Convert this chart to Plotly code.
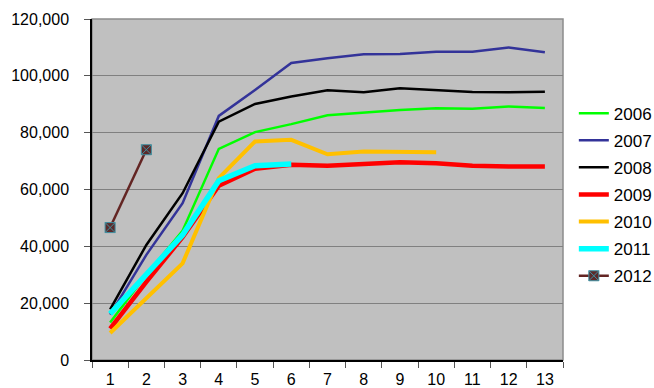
import plotly.graph_objects as go

# Month index shown on the category axis
months = [str(m) for m in range(1, 14)]

# Cumulative totals per year
y2006 = [13200, 30000, 45500, 74300, 80200, 83000, 86100, 87100, 88000, 88600, 88400, 89200, 88700]
y2007 = [16000, 37000, 55200, 85900, 95000, 104500, 106200, 107600, 107700, 108500, 108500, 110000, 108300]
y2008 = [17800, 40500, 58700, 83900, 90100, 92700, 94900, 94200, 95600, 94900, 94300, 94200, 94400]
y2009 = [11000, 27500, 43200, 61300, 67300, 68700, 68400, 69100, 69600, 69200, 68400, 68100, 68100]
y2010 = [9500, 21800, 34000, 64000, 76900, 77500, 72400, 73400, 73100, 73100]
y2011 = [16200, 30200, 44000, 63100, 68400, 69000]
y2012 = [46600, 74000]

y_ticks = [0, 20000, 40000, 60000, 80000, 100000, 120000]

series = [
    ("2006", y2006, "#00FF00", 2.5),
    ("2007", y2007, "#333399", 2.5),
    ("2008", y2008, "#000000", 2.5),
    ("2009", y2009, "#FF0000", 4.5),
    ("2010", y2010, "#FFC000", 4.0),
    ("2011", y2011, "#00FFFF", 5.5),
]

font_family = "Liberation Sans, Arial, sans-serif"

fig = go.Figure()
for name, vals, color, width in series:
    fig.add_trace(go.Scatter(
        x=months[:len(vals)], y=vals, name=name, mode="lines",
        legendgroup=name,
        line=dict(color=color, width=width),
    ))

fig.add_trace(go.Scatter(
    x=months[:len(y2012)], y=y2012, name="2012", mode="lines+markers",
    legendgroup="2012",
    line=dict(color="#632523", width=2.5),
    marker=dict(symbol="square-x", size=10, color="#5C2A2A",
                line=dict(color="#3F8FA0", width=1)),
))

# Grey frame around the plotting area (left/bottom axis lines drawn in black on top)
fig.add_shape(type="rect", xref="x domain", yref="y domain",
              x0=0, x1=1, y0=0, y1=1, layer="below",
              line=dict(color="#8C8C8C", width=1.5), fillcolor="rgba(0,0,0,0)")

fig.update_layout(
    width=654, height=388,
    margin=dict(l=92, r=91, t=19, b=28, autoexpand=False),
    paper_bgcolor="white",
    plot_bgcolor="#C0C0C0",
    font=dict(family=font_family, size=16, color="black"),
    showlegend=True,
    legend=dict(
        x=1.023, xanchor="left", y=0.485, yanchor="middle",
        font=dict(size=17, family=font_family),
        bgcolor="rgba(0,0,0,0)",
        tracegroupgap=2,
        traceorder="grouped",
    ),
    xaxis=dict(
        type="category", categoryorder="array", categoryarray=months,
        range=[-0.5, 12.5], automargin=False,
        showgrid=False, zeroline=False,
        showline=True, linecolor="black", linewidth=1.5,
        ticks="outside", tickson="boundaries", ticklen=6,
        tickcolor="#555555", tickwidth=1,
        tickfont=dict(size=16),
        ticklabelstandoff=4,
    ),
    yaxis=dict(
        range=[0, 120000], tickvals=y_ticks, tickformat=",",
        automargin=False,
        showgrid=True, gridcolor="#808080", gridwidth=1.2,
        zeroline=False,
        showline=True, linecolor="black", linewidth=1.5,
        ticks="outside", ticklen=6, tickcolor="#555555", tickwidth=1,
        tickfont=dict(size=16),
        ticklabelstandoff=12,
    ),
)

fig.write_html("out.html")
